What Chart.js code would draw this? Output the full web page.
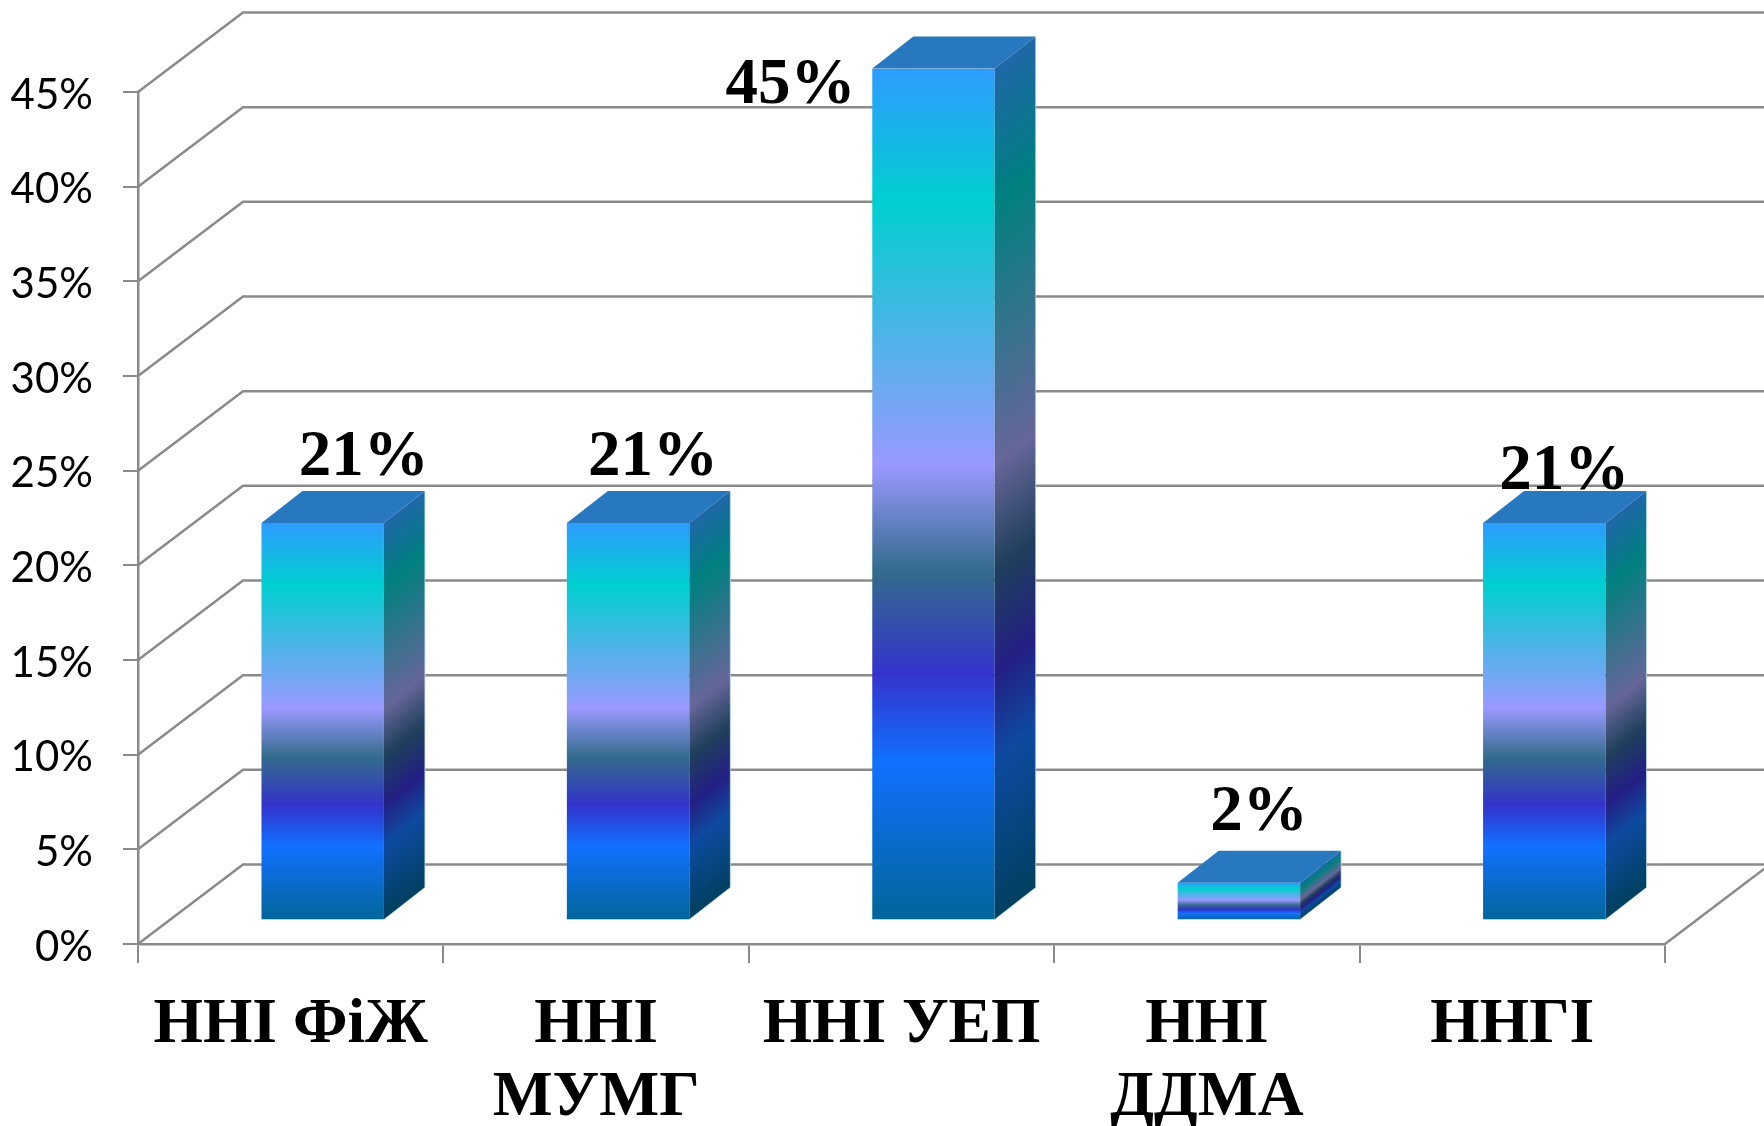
<!DOCTYPE html>
<html>
<head>
<meta charset="utf-8">
<style>html,body{margin:0;padding:0;background:#fff}canvas{display:block}</style>
<script src="https://cdn.jsdelivr.net/npm/chart.js@4"></script>
</head>
<body>
<canvas id="c" width="1764" height="1126"></canvas>
<script>
const categories = [['ННІ ФіЖ'], ['ННІ', 'МУМГ'], ['ННІ УЕП'], ['ННІ', 'ДДМА'], ['ННГІ']];
const shares = [21, 21, 45, 2, 21];
const valueTickLabels = ['0%', '5%', '10%', '15%', '20%', '25%', '30%', '35%', '40%', '45%'];

// layout and styling constants (not data)
const WALL_DX = 105, WALL_DY = -79.5;   // floor depth
const BAR_DX = 32, BAR_DY = -23.5;      // bars stand this far back on the floor
const SIDE_DX = 41, SIDE_DY = -32;      // bar depth
const LABEL_OFFSETS = [[41, -65], [25, -65], [-143, 18], [20, -69], [20, -51]];
const GRID = '#8a8a8a';
const STOPS = [0, .156, .466, .59, .71, .813, 1];
const FRONT = ['#2e9cff', '#00cfd0', '#9999ff', '#336b8c', '#3333cc', '#1170ff', '#006699'];
const SIDE = ['#1f67a8', '#008080', '#666699', '#1f3f5c', '#231f85', '#0d4aa0', '#00405f'];

function grad(ctx, top, bottom, colors) {
  const g = ctx.createLinearGradient(0, top, 0, bottom);
  STOPS.forEach((s, i) => g.addColorStop(s, colors[i]));
  return g;
}

const wall3d = {
  id: 'wall3d',
  beforeDatasetsDraw(chart) {
    const { ctx, chartArea: a, scales: { y } } = chart;
    ctx.save();
    ctx.strokeStyle = GRID;
    ctx.lineWidth = 2.5;
    y.ticks.forEach(t => {
      const p = y.getPixelForValue(t.value);
      ctx.beginPath();
      ctx.moveTo(a.left, p);
      ctx.lineTo(a.left + WALL_DX, p + WALL_DY);
      ctx.lineTo(1764, p + WALL_DY);
      ctx.stroke();
    });
    ctx.beginPath();
    ctx.moveTo(a.right, a.bottom);
    ctx.lineTo(a.right + WALL_DX, a.bottom + WALL_DY);
    ctx.stroke();
    ctx.restore();
  },
  beforeDatasetDraw(chart) {
    chart.ctx.save();
    chart.ctx.translate(BAR_DX, BAR_DY);
  },
  afterDatasetDraw(chart, args) {
    const { ctx } = chart;
    args.meta.data.forEach(bar => {
      const p = bar.getProps(['x', 'y', 'base', 'width'], true);
      const right = p.x + p.width / 2, left = p.x - p.width / 2;
      // top face
      ctx.fillStyle = '#2878c0';
      ctx.beginPath();
      ctx.moveTo(left, p.y);
      ctx.lineTo(left + SIDE_DX, p.y + SIDE_DY);
      ctx.lineTo(right + SIDE_DX, p.y + SIDE_DY);
      ctx.lineTo(right, p.y);
      ctx.closePath();
      ctx.fill();
      // side face, gradient sheared with the face
      ctx.save();
      ctx.translate(right, 0);
      ctx.transform(1, SIDE_DY / SIDE_DX, 0, 1, 0, 0);
      ctx.fillStyle = grad(ctx, p.y, p.base, SIDE);
      ctx.fillRect(0, p.y, SIDE_DX, p.base - p.y);
      ctx.restore();
      // pale silhouette edge
      ctx.strokeStyle = 'rgba(190,225,245,0.75)';
      ctx.lineWidth = 1;
      ctx.beginPath();
      ctx.moveTo(left, p.base);
      ctx.lineTo(right, p.base);
      ctx.lineTo(right + SIDE_DX, p.base + SIDE_DY);
      ctx.lineTo(right + SIDE_DX, p.y + SIDE_DY);
      ctx.stroke();
    });
    ctx.restore();
  },
  afterDatasetsDraw(chart) {
    const { ctx } = chart;
    const meta = chart.getDatasetMeta(0);
    ctx.save();
    ctx.fillStyle = '#000';
    ctx.font = 'bold 65px "Liberation Serif"';
    ctx.textAlign = 'center';
    ctx.textBaseline = 'middle';
    meta.data.forEach((bar, i) => {
      const [ox, oy] = LABEL_OFFSETS[i];
      ctx.fillText(shares[i] + '%', bar.x + BAR_DX + ox, bar.y + BAR_DY + oy);
    });
    ctx.restore();
  }
};

new Chart(document.getElementById('c'), {
  type: 'bar',
  data: {
    labels: categories,
    datasets: [{
      data: shares,
      barPercentage: 0.401,
      categoryPercentage: 1,
      borderWidth: 0,
      backgroundColor(c) {
        const y = c.chart.scales.y;
        if (!y || !c.chart.chartArea) return FRONT[0];
        const top = y.getPixelForValue(shares[c.dataIndex]);
        const base = y.getPixelForValue(0);
        if (!isFinite(top) || !isFinite(base)) return FRONT[0];
        return grad(c.chart.ctx, top, base, FRONT);
      }
    }]
  },
  plugins: [wall3d],
  options: {
    responsive: false,
    animation: false,
    events: [],
    layout: { autoPadding: false, padding: { left: 0, right: 99, top: 92, bottom: 0 } },
    plugins: { legend: { display: false }, tooltip: { enabled: false }, title: { display: false } },
    scales: {
      x: {
        offset: true,
        afterFit(s) { s.height = 182; },
        border: { color: GRID, width: 2.5 },
        grid: { color: GRID, lineWidth: 2, drawOnChartArea: false, drawTicks: true, tickLength: 19, offset: true },
        ticks: {
          autoSkip: false, maxRotation: 0, minRotation: 0, padding: 26, color: '#000',
          font: { family: '"Liberation Serif"', weight: 'bold', size: 63.5, lineHeight: 1.15 }
        }
      },
      y: {
        min: 0, max: 45,
        afterFit(s) { s.width = 138; },
        border: { color: GRID, width: 2.5 },
        grid: { color: GRID, lineWidth: 2, drawOnChartArea: false, drawTicks: true, tickLength: 15 },
        ticks: {
          stepSize: 5, padding: 30, color: '#000', labelOffset: 3,
          font: { family: 'Lato', size: 42 },
          callback(v, i) { return valueTickLabels[i]; }
        }
      }
    }
  }
});
</script>
</body>
</html>
